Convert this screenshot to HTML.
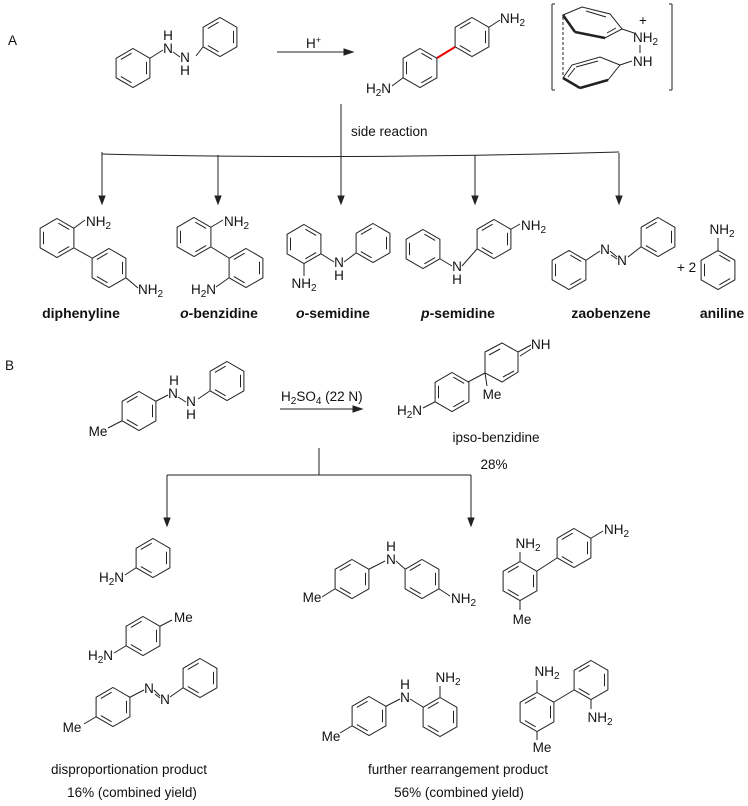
<!DOCTYPE html>
<html><head><meta charset="utf-8"><style>
html,body{margin:0;padding:0;background:#fff;}
svg{display:block;font-family:"Liberation Sans",sans-serif;}
text{font-size:13.5px;fill:#111;}
.b{font-weight:bold;font-size:14px;}
</style></head><body>
<svg id="s" width="748" height="806" viewBox="0 0 748 806" xmlns="http://www.w3.org/2000/svg">
<g id="g" stroke="#222" stroke-width="1" fill="none"></g>
<g id="t"></g>
</svg>
<script>
var g=document.getElementById('g'),T=document.getElementById('t'),R=19.5,NS='http://www.w3.org/2000/svg';
function L(x1,y1,x2,y2,st){var e=document.createElementNS(NS,'line');e.setAttribute('x1',x1);e.setAttribute('y1',y1);e.setAttribute('x2',x2);e.setAttribute('y2',y2);if(st)e.setAttribute('style',st);g.appendChild(e);}
function P(d,st){var e=document.createElementNS(NS,'path');e.setAttribute('d',d);if(st)e.setAttribute('style',st);g.appendChild(e);}
function V(cx,cy,i){var a=(-90+60*i)*Math.PI/180;return [cx+R*Math.cos(a),cy+R*Math.sin(a)];}
function ring(cx,cy,d){var s='M';for(var i=0;i<6;i++){var v=V(cx,cy,i);s+=v[0].toFixed(1)+' '+v[1].toFixed(1)+(i<5?' L':' Z');}P(s);
 d=d||[0,2,4];d.forEach(function(i){var a=V(cx,cy,i),b=V(cx,cy,(i+1)%6),k=0.8;
 var ax=cx+(a[0]-cx)*k,ay=cy+(a[1]-cy)*k,bx=cx+(b[0]-cx)*k,by=cy+(b[1]-cy)*k;
 var mx=(ax+bx)/2,my=(ay+by)/2,f=0.8;L(mx+(ax-mx)*f,my+(ay-my)*f,mx+(bx-mx)*f,my+(by-my)*f);});}
function B(cx,cy,i,x,y,st){var v=V(cx,cy,i);L(v[0],v[1],x,y,st);}
function X(x,y,h,anc,cls){T.insertAdjacentHTML('beforeend','<text x="'+x+'" y="'+y+'"'+(anc?' text-anchor="'+anc+'"':'')+(cls?' class="'+cls+'"':'')+'>'+h+'</text>');}
var s2='<tspan dy="3" font-size="10">2</tspan>';
var NH2='NH'+s2, H2N='H<tspan dy="3" font-size="10">2</tspan><tspan dy="-3">N</tspan>';
function arrowDown(x,y){P('M'+(x-3)+' '+(y-8)+' L'+(x+3)+' '+(y-8)+' L'+x+' '+y+' Z','fill:#222');}
function arrowRight(x,y){P('M'+(x-9)+' '+(y-3)+' L'+(x-9)+' '+(y+3)+' L'+x+' '+y+' Z','fill:#222');}

// ===== Panel A =====
X(8,45,'A');
ring(133,68,[1,3,5]);ring(220,37,[1,3,5]);
B(133,68,1,163,50);L(173,52,180,57);B(220,37,4,196,56);
X(168,53,'N','middle');X(168,40,'H','middle');X(185,62,'N','middle');X(185,75,'H','middle');
L(277,52,345,52);arrowRight(353,52);X(306,48,'H<tspan dy="-5" font-size="9">+</tspan>');
// benzidine
ring(420,68,[0,2,4]);ring(472,37,[1,3,5]);
L(437,58,455,47,'stroke:#e00;stroke-width:2');
B(472,37,1,500,20);X(500,23,NH2);
B(420,68,4,392,86);X(391,93,H2N,'end');
// complex
L(555,4,552,4);L(552,4,552,90);L(552,90,555,90);
L(669,4,672,4);L(672,4,672,90);L(672,90,669,90);
P('M563 15 L582 7 L610 14 L622 29 L605 38 L575 32 Z');
L(563,15,575,32,'stroke-width:2.5');L(575,32,605,38,'stroke-width:2.5');
L(586,11,606,17);L(607,33,616,28);
L(622,29,634,33);X(633,42,NH2);X(639,25,'+','','');
L(640,45,640,53);X(633,66,'NH');
P('M563 78 L572 65 L600 57 L620 65 L608 80 L580 88 Z');
L(563,78,580,88,'stroke-width:2.5');L(580,88,608,80,'stroke-width:2.5');
L(576,67,598,61);L(568,77,575,68);
L(620,65,632,61);
L(563,17,563,76,'stroke-dasharray:3 2');
// side reaction
L(341,104,341,157);X(351,136,'side reaction');
P('M102 154 Q341 160 619 152');
[[102,152],[218,155],[341,157],[475,155],[619,153]].forEach(function(p){L(p[0],p[1],p[0],196);arrowDown(p[0],204);});
// diphenyline
ring(57,238);ring(109,268,[1,3,5]);
B(57,238,1,85,220);X(86,226,NH2);
L(74,248,92,258);B(109,268,2,138,288);X(138,294,NH2);
// o-benzidine
ring(194,237);ring(246,268,[1,3,5]);
B(194,237,1,223,220);X(224,226,NH2);
L(211,247,229,258);B(246,268,4,216,287);X(216,294,H2N,'end');
// o-semidine
ring(304,244);ring(373,243,[1,3,5]);
B(304,244,3,304,276);X(304,288,NH2,'middle');
B(304,244,2,334,262);L(344,262,356,253);X(339,267,'N','middle');X(339,280,'H','middle');
// p-semidine
ring(423,249);ring(494,239,[1,3,5]);
B(423,249,2,452,266);L(462,266,477,249);X(457,271,'N','middle');X(457,284,'H','middle');
B(494,239,1,520,224);X(521,230,NH2);
// azobenzene
ring(569,270);ring(658,237,[1,3,5]);
B(569,270,1,600,251);L(610,251,617,257);L(611,255,617,259);B(658,237,4,628,257);
X(605,254,'N','middle');X(622,265,'N','middle');
X(677,272,'+ 2');
ring(718,270);B(718,270,0,718,238);X(722,234,NH2,'middle');
[['diphenyline',81],['<tspan font-style="italic">o</tspan>-benzidine',219],['<tspan font-style="italic">o</tspan>-semidine',333],['<tspan font-style="italic">p</tspan>-semidine',458],['zaobenzene',611],['aniline',722]].forEach(function(a){X(a[1],318,a[0],'middle','b');});

// ===== Panel B =====
X(5,370,'B');
ring(139,411,[1,3,5]);ring(227,381,[1,3,5]);
B(139,411,1,168,395);L(178,397,186,402);B(227,381,4,198,399);
X(173,398,'N','middle');X(174,385,'H','middle');X(191,406,'N','middle');X(191,419,'H','middle');
B(139,411,4,108,428);X(98,436,'Me','middle');
L(280,409,354,409);arrowRight(362,409);
X(281,401,'H<tspan dy="3" font-size="10">2</tspan><tspan dy="-3">SO</tspan><tspan dy="3" font-size="10">4</tspan><tspan dy="-3"> (22 N)</tspan>');
// ipso-benzidine
ring(452,392,[0,2,4]);
P('M485 352 L502 343 L518 352 L518 372 L502 382 L485 373 Z');
L(489,355,500,349);L(503,377,514,371);
L(468,382,485,373);B(452,392,4,423,408);X(422,415,H2N,'end');
L(485,373,487,386);X(492,399,'Me','middle');
L(518,352,531,345);L(520,356,531,349);X(531,349,'NH');
X(496,442,'ipso-benzidine','middle');X(494,469,'28%','middle');
L(319,448,319,475);L(167,475,471,475);
L(167,475,167,518);arrowDown(167,526);L(471,475,471,518);arrowDown(471,526);
// aniline
ring(153,558,[1,3,5]);B(153,558,4,125,575);X(124,582,H2N,'end');
// p-toluidine
ring(143,636,[1,3,5]);B(143,636,1,172,620);X(174,622,'Me');
B(143,636,4,114,653);X(113,660,H2N,'end');
// azo Me
ring(113,707,[1,3,5]);ring(200,678,[1,3,5]);
B(113,707,1,144,690);L(154,690,160,696);L(155,694,160,698);B(200,678,4,170,697);
X(149,693,'N','middle');X(165,704,'N','middle');
B(113,707,4,84,724);X(72,732,'Me','middle');
X(129,774,'disproportionation product','middle');X(132,797,'16% (combined yield)','middle');
// Me p-semidine
ring(352,579,[1,3,5]);ring(422,579,[1,3,5]);
B(352,579,1,385,561);L(396,561,405,569);X(391,564,'N','middle');X(391,551,'H','middle');
B(422,579,2,450,596);X(451,603,NH2);
B(352,579,4,322,597);X(312,602,'Me','middle');
// Me diphenyline
ring(520,581,[1,3,5]);ring(574,548,[1,3,5]);
B(520,581,0,520,552);X(528,548,NH2,'middle');
L(537,571,557,558);B(574,548,1,603,531);X(604,534,NH2);
B(520,581,3,520,610);X(522,624,'Me','middle');
// Me o-semidine
ring(369,716,[1,3,5]);ring(440,717,[1,3,5]);
B(369,716,1,400,699);L(410,699,423,707);X(405,702,'N','middle');X(405,689,'H','middle');
B(440,717,0,440,686);X(448,682,NH2,'middle');
B(369,716,4,340,733);X(331,741,'Me','middle');
// Me o,o'
ring(537,712,[1,3,5]);ring(591,680,[1,3,5]);
B(537,712,0,537,680);X(547,676,NH2,'middle');
L(554,702,574,690);B(591,680,3,591,709);X(600,722,NH2,'middle');
B(537,712,3,537,740);X(542,752,'Me','middle');
X(458,774,'further rearrangement product','middle');X(459,797,'56% (combined yield)','middle');
</script>
</body></html>
